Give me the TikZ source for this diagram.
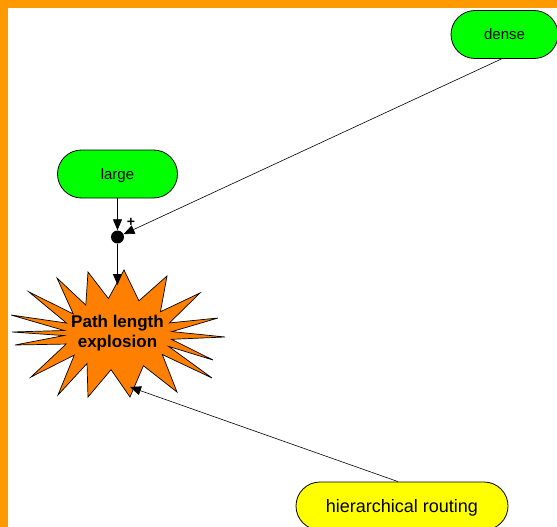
\documentclass[tikz,border=0pt]{standalone}
\usepackage{fontspec}
\setmainfont{Liberation Sans}
\usetikzlibrary{arrows.meta}
\definecolor{frameorange}{HTML}{FF9900}
\definecolor{burstorange}{HTML}{FF8000}
\definecolor{factgreen}{HTML}{00FF00}
\definecolor{factyellow}{HTML}{FFFF00}

\begin{document}
\begin{tikzpicture}[x=1pt,y=-1pt,
  fact/.style={draw=black, line width=0.8pt, rounded corners=24pt,
    minimum height=48pt, inner sep=0pt, text height=13pt, text depth=3pt,
    font=\fontsize{15}{18}\selectfont},
  arr/.style={-{Triangle[length=11pt,width=9pt]}, line width=0.8pt},
  thinarr/.style={arr, line width=0.6pt},
  burst/.style={fill=burstorange, draw=black, line width=0.7pt, line join=miter}]
\useasboundingbox (0,0) rectangle (557,527);
\clip (0,0) rectangle (557,527);
\fill[white] (0,0) rectangle (557,527);
% frame bands along the top and left edges
\fill[frameorange] (0,0) rectangle (557,8);
\fill[frameorange] (0,0) rectangle (8,527);

% facts
\node[fact, fill=factgreen, minimum width=107pt] (dense) at (504.5,34.5) {dense};
\node[fact, fill=factgreen, minimum width=120pt] (large) at (117.5,174) {large};
\node[fact, fill=factyellow, minimum width=212pt, text height=15pt,
  font=\fontsize{18}{21}\selectfont] (hr) at (402,506) {hierarchical routing};

% explosion burst
\draw[burst, shift={(118,334)}]
  (6,-64) -- (-67.2:54 and 36) -- (49,-58) -- (-38.2:54 and 36)
  -- (82,-41) -- (-17.9:54 and 36) -- (100,-16) -- (-3.8:54 and 36)
  -- (107,3) -- (8.5:54 and 36) -- (95,26) -- (20.2:54 and 36)
  -- (94,44) -- (34.8:54 and 36) -- (59,58) -- (61.9:54 and 36)
  -- (12,63) -- (97.4:54 and 36) -- (-30,63) -- (125:54 and 36)
  -- (-60,61) -- (144.1:54 and 36) -- (-87,43) -- (163.8:54 and 36)
  -- (-103,11) -- (177.5:54 and 36) -- (-106,-2) -- (185.6:54 and 36)
  -- (-107,-19) -- (197.7:54 and 36) -- (-89,-42) -- (214:54 and 36)
  -- (-61,-56) -- (233.4:54 and 36) -- (-30,-62) -- (259.8:54 and 36)
  -- cycle;
\node[font=\bfseries\fontsize{17}{20.6}\selectfont, align=center, inner sep=0pt]
  (burst) at (117.5,333) {Path length\\explosion};
\coordinate (burstTop) at (117.5,285);
\coordinate (burstFoot) at (130,387);

% junction
\node[circle, fill=black, minimum size=13pt, inner sep=0pt] (j) at (117.5,237) {};
\node[font=\bfseries\fontsize{14}{14}\selectfont, inner sep=0pt] (jplus) at (131,222.5) {+};

% connectors
\draw[arr] (large) -- (j);
\draw[thinarr] ([xshift=-3pt]dense.south) -- (j);
\draw[arr] (j) -- (burstTop);
\draw[thinarr] ([xshift=-4pt]hr.north) -- (burstFoot);
\end{tikzpicture}
\end{document}
